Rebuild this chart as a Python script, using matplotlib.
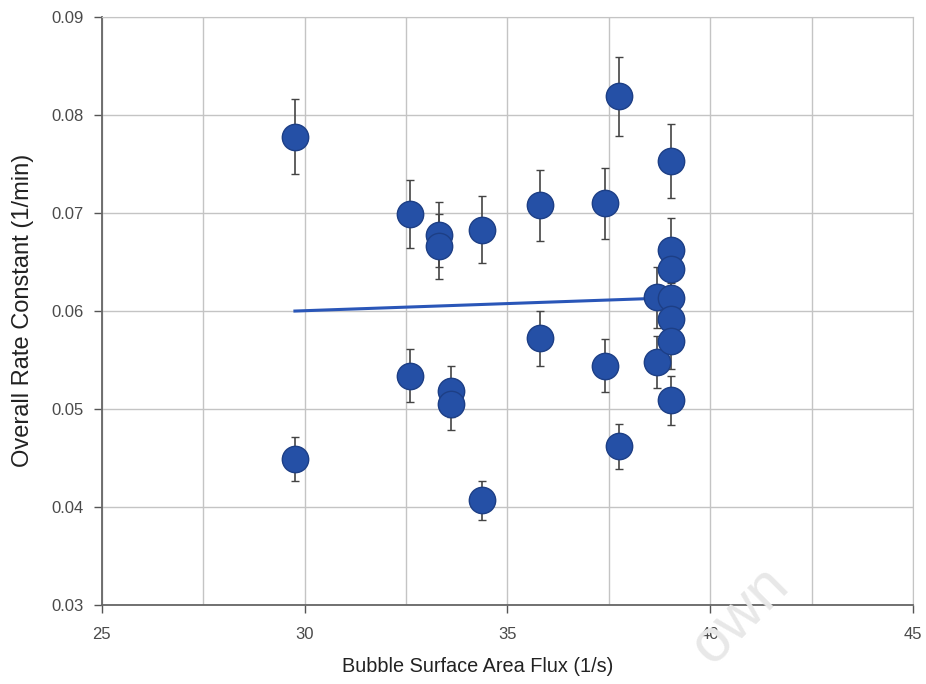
import numpy as np
import matplotlib
matplotlib.use("Agg")
import matplotlib.pyplot as plt

plt.rcParams['font.family'] = ['Liberation Sans', 'DejaVu Sans']

# Bubble surface area flux (1/s), rate constant (1/min) and its error
flux = [29.76, 29.76, 32.6, 32.6, 33.31, 33.31, 33.6, 33.6, 34.37, 34.37,
        35.8, 35.8, 37.4, 37.4, 37.75, 37.75, 38.69, 38.69,
        39.03, 39.03, 39.03, 39.03, 39.03, 39.03, 39.03]
rate = [0.0778, 0.0449, 0.0699, 0.0534, 0.0678, 0.0666, 0.0518, 0.0505, 0.0683, 0.0407,
        0.0708, 0.0572, 0.0710, 0.0544, 0.0819, 0.0462, 0.0614, 0.0548,
        0.0753, 0.0662, 0.0643, 0.0613, 0.0592, 0.0569, 0.0509]
rate_err = [0.0038, 0.0022, 0.0035, 0.0027, 0.0033, 0.0033, 0.0026, 0.0026, 0.0034, 0.0020,
            0.0036, 0.0028, 0.0036, 0.0027, 0.0040, 0.0023, 0.0031, 0.0027,
            0.0038, 0.0033, 0.0032, 0.0031, 0.0030, 0.0028, 0.0025]

# Linear trend line end points
trend_flux = [29.76, 39.03]
trend_rate = [0.0600, 0.06135]

x_ticks = [25, 30, 35, 40, 45]
y_ticks = [0.03, 0.04, 0.05, 0.06, 0.07, 0.08, 0.09]
y_tick_labels = ['0.03', '0.04', '0.05', '0.06', '0.07', '0.08', '0.09']

fig = plt.figure(figsize=(9.26, 6.84), dpi=100)
ax = fig.add_axes([0.110, 0.1155, 0.876, 0.8595])

ax.set_xlim(25, 45)
ax.set_ylim(0.03, 0.09)
ax.set_xticks(x_ticks)
ax.set_xticks(np.arange(25, 45.1, 2.5), minor=True)
ax.set_yticks(y_ticks)
ax.set_yticklabels(y_tick_labels)
ax.grid(True, which='both', color='#c4c4c4', linewidth=1.0)
ax.set_axisbelow(True)
ax.tick_params(which='minor', length=0)
ax.tick_params(which='major', direction='out', length=6, color='#555555',
               labelsize=12, labelcolor='#4a4a4a', width=1)
ax.tick_params(axis='x', which='major', pad=10)
ax.tick_params(axis='y', which='major', pad=7)

for side in ('top', 'right'):
    ax.spines[side].set_color('#c4c4c4')
for side in ('left', 'bottom'):
    ax.spines[side].set_color('#666666')
    ax.spines[side].set_linewidth(1.3)

ax.plot(trend_flux, trend_rate, color='#2a56b8', linewidth=2.2, zorder=2)

ax.errorbar(flux, rate, yerr=rate_err, fmt='o', color='#2550a6',
            markersize=19, markeredgecolor='#1d3f86', markeredgewidth=1,
            ecolor='#444444', elinewidth=1.2, capsize=3, capthick=1.2, zorder=3)

ax.set_xlabel('Bubble Surface Area Flux (1/s)', fontsize=14.3, color='#222222')
ax.set_ylabel('Overall Rate Constant (1/min)', fontsize=17, color='#222222')
ax.xaxis.set_label_coords(0.4636, -0.088)
ax.yaxis.set_label_coords(-0.084, 0.501)

fig.text(0.80, 0.10, 'own', fontsize=44, color='#e8e8e8', rotation=45,
         ha='center', va='center', zorder=0)

fig.savefig('out.png', dpi=100)
